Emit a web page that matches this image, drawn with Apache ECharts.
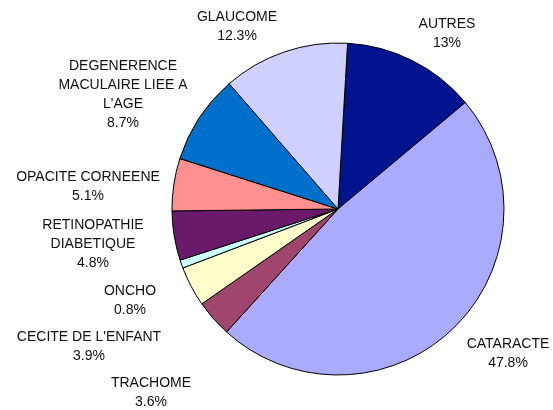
<!DOCTYPE html>
<html lang="fr">
<head>
    <meta charset="utf-8">
    <title>Causes de cecite</title>
    <script src="https://cdn.jsdelivr.net/npm/echarts@6/dist/echarts.min.js"></script>
    <style>
        html, body { margin: 0; padding: 0; background: #fff; }
    </style>
</head>
<body>
<div id="pie" style="width:553px;height:410px;"></div>

<script>
    // donnees (en %), dans le sens des aiguilles d'une montre depuis le haut
    var causes = ['AUTRES', 'CATARACTE', 'TRACHOME', "CECITE DE L'ENFANT", 'ONCHO',
        'RETINOPATHIE\nDIABETIQUE', 'OPACITE CORNEENE', "DEGENERENCE\nMACULAIRE LIEE A\nL'AGE", 'GLAUCOME'];
    var pourcents = [13, 47.8, 3.6, 3.9, 0.8, 4.8, 5.1, 8.7, 12.3];
    var couleurs = ['#001490', '#aaaaff', '#a0466e', '#ffffcc', '#ccffff',
        '#6b1a6b', '#ff9090', '#0070cc', '#d0d0ff'];
    // position des etiquettes (placees a la main dans l'original)
    var posEtiquettes = [[447, 34], [508, 354], [151, 393], [89, 347], [130, 301],
        [93, 244], [88, 187], [123, 95], [237, 27]];

    window.onload = function () {
        var chart = echarts.init(document.getElementById('pie'));

        var data = [];
        for (var i = 0; i < causes.length; i++) {
            data.push({ name: causes[i], value: pourcents[i], itemStyle: { color: couleurs[i] } });
        }

        var option = {
            animation: false,
            series: [{
                type: 'pie',
                center: [338, 209],
                radius: 166,
                startAngle: 86.7,
                clockwise: true,
                avoidLabelOverlap: false,
                itemStyle: { borderColor: '#000', borderWidth: 1 },
                label: {
                    show: true,
                    position: 'outside',
                    formatter: function (p) { return p.name + '\n' + p.value + '%'; },
                    fontFamily: 'Liberation Sans, Arial, sans-serif',
                    fontSize: 14,
                    lineHeight: 19,
                    color: '#111',
                    align: 'center'
                },
                labelLine: { show: false },
                labelLayout: function (params) {
                    var p = posEtiquettes[params.dataIndex];
                    return { x: p[0], y: p[1], align: 'center', verticalAlign: 'middle' };
                },
                emphasis: { disabled: true },
                data: data
            }]
        };

        chart.setOption(option);
    };
</script>
</body>
</html>
